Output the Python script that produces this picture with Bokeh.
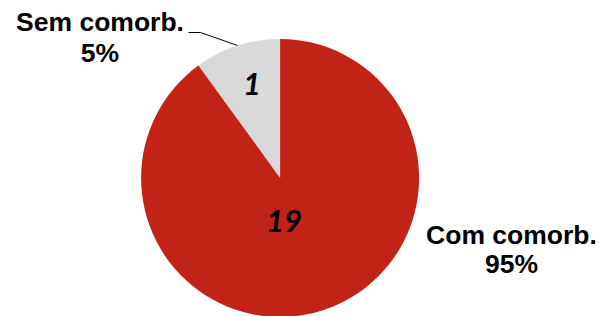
import numpy as np
from bokeh.plotting import figure
from bokeh.models import Range1d, ColumnDataSource
from bokeh.core.properties import value
from bokeh.embed import file_html
from bokeh.resources import INLINE

# Data
categories = ["Sem comorb.", "Com comorb."]
counts = [1, 19]
percent_labels = ["5%", "95%"]
slice_shares = [0.10, 0.90]   # angular share as drawn in the picture
colors = ["#D9D9D9", "#C22317"]

W, H = 599, 316
p = figure(width=W, height=H, output_backend="svg", toolbar_location=None,
           x_range=Range1d(0, W), y_range=Range1d(0, H),
           min_border=0, min_border_left=0, min_border_right=0,
           min_border_top=0, min_border_bottom=0)
p.axis.visible = False
p.grid.visible = False
p.outline_line_color = None
p.background_fill_color = "white"

def Y(y_px):
    return H - y_px

TXT_SHIFT = 11  # compensate for baseline offset of svg text

cx, cy, R = 279.6, Y(177.5), 139.0
shares = np.array(slice_shares)
ends = np.pi / 2 + 2 * np.pi * np.cumsum(shares)
starts = ends - 2 * np.pi * shares
src = ColumnDataSource(dict(start=starts, end=ends, color=colors,
                            cat=categories, n=[str(c) for c in counts],
                            pct=percent_labels))
p.wedge(x=cx, y=cy, radius=R, start_angle="start", end_angle="end",
        direction="anticlock", fill_color="color", line_color=None, source=src)

# count labels inside slices
p.text(x=[cx - 28, cx + 4], y=[Y(95 - TXT_SHIFT - 1), Y(232 - TXT_SHIFT - 1)],
       text=[str(c) for c in counts],
       text_font=value("Lato"), text_font_style="bold italic",
       text_font_size="31px", text_align="center", text_baseline="alphabetic",
       text_color="black")

# category labels outside
p.text(x=[99.5, 511], y=[Y(32 - TXT_SHIFT), Y(245 - TXT_SHIFT)], text=categories,
       text_font=value("Liberation Sans"), text_font_style="bold",
       text_font_size="26.5px", text_align="center", text_baseline="alphabetic",
       text_color="black")
p.text(x=[99.5, 511], y=[Y(63 - TXT_SHIFT), Y(274 - TXT_SHIFT)], text=percent_labels,
       text_font=value("Liberation Sans"), text_font_style="bold",
       text_font_size="26.5px", text_align="center", text_baseline="alphabetic",
       text_color="black")

# leader line for small slice
p.line(x=[188, 200, 237], y=[Y(32), Y(32), Y(45)], line_color="black", line_width=1)

open("out.html", "w").write(file_html(p, INLINE))
